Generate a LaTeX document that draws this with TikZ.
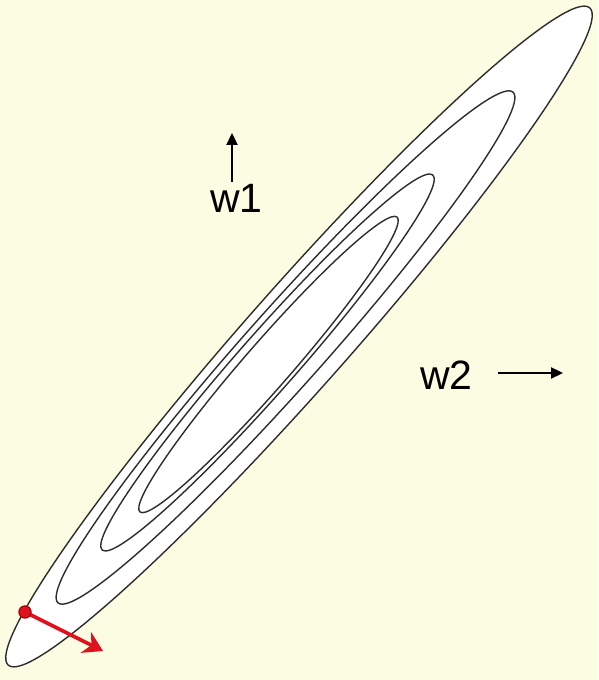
\documentclass[tikz,border=0pt]{standalone}
\usepackage{fontspec}
\setmainfont{Liberation Sans}
\usetikzlibrary{arrows.meta}
\definecolor{bg}{RGB}{252,252,226}
\definecolor{contourcol}{RGB}{45,45,45}
\definecolor{redarrow}{RGB}{222,18,30}
\definecolor{reddark}{RGB}{165,0,10}
\begin{document}
\begin{tikzpicture}[x=1pt,y=1pt,
  contour/.style={draw=contourcol, line width=1.4pt, fill=white},
  lbl/.style={font=\fontsize{41}{45}\selectfont, inner sep=0pt, anchor=base west},
  axisarrow/.style={-{Triangle[length=12pt,width=11pt]}, line width=2.3pt, black},
  gradarrow/.style={-{Stealth[length=19pt,width=23pt,inset=6pt]}, line width=3.6pt, redarrow},
  dotstyle/.style={circle, fill=redarrow, draw=reddark, line width=1pt, minimum size=12pt, inner sep=0pt}]
\fill[bg] (0,0) rectangle (598,680);
\useasboundingbox (0,0) rectangle (598,680);
% contour ellipses
\draw[contour, rotate around={48.5:(299,343.5)}] (299,343.5) ellipse [x radius=438.8, y radius=51];
\draw[contour, rotate around={48.3:(285.5,332.5)}] (285.5,332.5) ellipse [x radius=342, y radius=39];
\draw[contour, rotate around={48.6:(267.5,317.5)}] (267.5,317.5) ellipse [x radius=250, y radius=29];
\draw[contour, rotate around={48.9:(268.5,315.5)}] (268.5,315.5) ellipse [x radius=195.6, y radius=23];
% labels
\node[lbl] (w1) at (210,467) {w1};
\node[lbl] (w2) at (420,290) {w2};
% axis arrows
\coordinate (w1s) at (232,498);
\coordinate (w1e) at (232,547);
\coordinate (w2s) at (498,307);
\coordinate (w2e) at (563,307);
\draw[axisarrow] (w1s) -- (w1e);
\draw[axisarrow] (w2s) -- (w2e);
% gradient step
\node[dotstyle] (pt) at (25,68) {};
\coordinate (gend) at (103,29);
\draw[gradarrow] (pt.center) -- (gend);
\node[dotstyle] at (pt) {};
\end{tikzpicture}
\end{document}
